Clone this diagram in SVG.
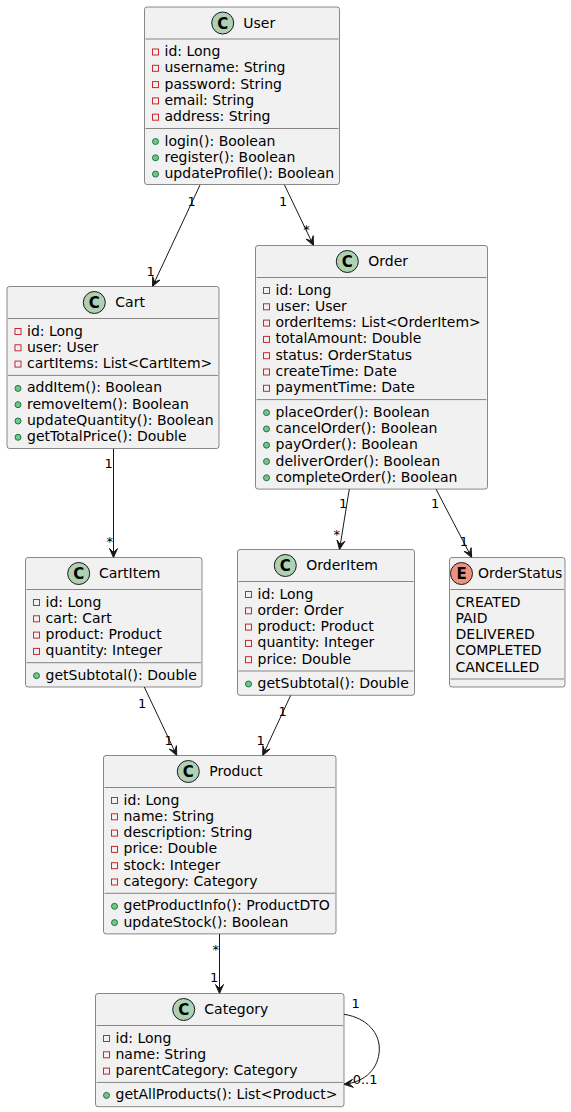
<svg xmlns="http://www.w3.org/2000/svg" width="571" height="1112" viewBox="0 0 571 1112">
<style>
.bg{fill:#FFFFFF}
.box{fill:#F1F1F1;stroke:#181818;stroke-width:0.5}
.sep{stroke:#181818;stroke-width:0.5}
text{font-family:"DejaVu Sans","Noto Sans",sans-serif;fill:#000000}
.t{font-size:14px}
.lbl{font-size:13px}
.ic{font-size:15px;font-weight:bold;text-anchor:middle}
.priv{fill:none;stroke:#C82930;stroke-width:1}
.pub{fill:#84BE84;stroke:#038048;stroke-width:1}
.cc{fill:#ADD1B2;stroke:#181818;stroke-width:1}
.ce{fill:#EB937F;stroke:#181818;stroke-width:1}
.edge{fill:none;stroke:#181818;stroke-width:1}
.head{fill:#181818;stroke:#181818;stroke-width:1}
</style>
<rect class="bg" x="0" y="0" width="571" height="1112"/>

<g id="connectors">
  <path class="edge" d="M200,185 L152.5,286.5"/>
  <polygon class="head" points="152.5,286.5 159.94,280.05 154.62,281.97 152.7,276.65"/>
  <text class="lbl" x="187.5" y="205.5">1</text>
  <text class="lbl" x="146.5" y="275.5">1</text>

  <path class="edge" d="M284.5,185 L313.5,245.5"/>
  <polygon class="head" points="313.5,245.5 313.22,235.65 311.34,240.99 306,239.11"/>
  <text class="lbl" x="279" y="205.5">1</text>
  <text class="lbl" x="303.3" y="233.7">*</text>

  <path class="edge" d="M113.5,448.6 L113.5,557.5"/>
  <polygon class="head" points="113.5,557.5 117.5,548.5 113.5,552.5 109.5,548.5"/>
  <text class="lbl" x="104.5" y="468.3">1</text>
  <text class="lbl" x="106.6" y="546">*</text>

  <path class="edge" d="M349.3,489.1 L339.5,549.5"/>
  <polygon class="head" points="339.5,549.5 344.89,541.26 340.3,544.57 336.99,539.98"/>
  <text class="lbl" x="339" y="508">1</text>
  <text class="lbl" x="333.6" y="538.7">*</text>

  <path class="edge" d="M436,489.1 L471.7,557.5"/>
  <polygon class="head" points="471.7,557.5 471.09,547.67 469.39,553.07 463.99,551.37"/>
  <text class="lbl" x="431" y="508">1</text>
  <text class="lbl" x="459.8" y="545.8">1</text>

  <path class="edge" d="M144.3,687 L176.7,755.5"/>
  <polygon class="head" points="176.7,755.5 176.47,745.65 174.56,750.98 169.23,749.07"/>
  <text class="lbl" x="138" y="707.5">1</text>
  <text class="lbl" x="164.5" y="745">1</text>

  <path class="edge" d="M290.7,695.3 L262.7,755.5"/>
  <polygon class="head" points="262.7,755.5 270.13,749.03 264.81,750.97 262.87,745.65"/>
  <text class="lbl" x="278.5" y="715.5">1</text>
  <text class="lbl" x="256.5" y="745">1</text>

  <path class="edge" d="M219.5,933.9 L219.5,993.5"/>
  <polygon class="head" points="219.5,993.5 223.5,984.5 219.5,988.5 215.5,984.5"/>
  <text class="lbl" x="212.6" y="953.7">*</text>
  <text class="lbl" x="210" y="982">1</text>

  <path class="edge" d="M344,1014.3 C368,1018 380,1034 379.3,1050 C378.6,1068 366,1082 344,1084.3"/>
  <polygon class="head" points="344,1084.3 353.39,1087.3 348.97,1083.76 352.51,1079.34"/>
  <text class="lbl" x="351.5" y="1008">1</text>
  <text class="lbl" x="352.7" y="1084">0..1</text>
</g>

<g id="User">
  <rect class="box" x="144.5" y="7" width="195" height="177.5" rx="2.5" ry="2.5"/>
  <circle class="cc" cx="222.7" cy="23" r="11"/>
  <text class="ic" x="222.7" y="28.5">C</text>
  <text class="t" x="243.3" y="27.8">User</text>
  <line class="sep" x1="145.5" y1="39" x2="338.5" y2="39"/>
  <rect class="priv" x="152.5" y="49" width="6" height="6"/><text class="t" x="164.5" y="56">id: Long</text>
  <rect class="priv" x="152.5" y="65.3" width="6" height="6"/><text class="t" x="164.5" y="72.3">username: String</text>
  <rect class="priv" x="152.5" y="81.6" width="6" height="6"/><text class="t" x="164.5" y="88.6">password: String</text>
  <rect class="priv" x="152.5" y="97.9" width="6" height="6"/><text class="t" x="164.5" y="104.9">email: String</text>
  <rect class="priv" x="152.5" y="114.2" width="6" height="6"/><text class="t" x="164.5" y="121.2">address: String</text>
  <line class="sep" x1="145.5" y1="128.5" x2="338.5" y2="128.5"/>
  <circle class="pub" cx="155.5" cy="141.5" r="3"/><text class="t" x="164.5" y="145.5">login(): Boolean</text>
  <circle class="pub" cx="155.5" cy="157.8" r="3"/><text class="t" x="164.5" y="161.8">register(): Boolean</text>
  <circle class="pub" cx="155.5" cy="174.1" r="3"/><text class="t" x="164.5" y="178.1">updateProfile(): Boolean</text>
</g>

<g id="Cart">
  <rect class="box" x="7" y="286.5" width="212" height="162" rx="2.5" ry="2.5"/>
  <circle class="cc" cx="94.3" cy="302.5" r="11"/>
  <text class="ic" x="94.3" y="308">C</text>
  <text class="t" x="115.3" y="307.3">Cart</text>
  <line class="sep" x1="8" y1="318.5" x2="218" y2="318.5"/>
  <rect class="priv" x="15" y="328.5" width="6" height="6"/><text class="t" x="27" y="335.5">id: Long</text>
  <rect class="priv" x="15" y="344.8" width="6" height="6"/><text class="t" x="27" y="351.8">user: User</text>
  <rect class="priv" x="15" y="361.1" width="6" height="6"/><text class="t" x="27" y="368.1">cartItems: List&lt;CartItem&gt;</text>
  <line class="sep" x1="8" y1="375.4" x2="218" y2="375.4"/>
  <circle class="pub" cx="18" cy="388.4" r="3"/><text class="t" x="27" y="392.4">addItem(): Boolean</text>
  <circle class="pub" cx="18" cy="404.7" r="3"/><text class="t" x="27" y="408.7">removeItem(): Boolean</text>
  <circle class="pub" cx="18" cy="421" r="3"/><text class="t" x="27" y="425">updateQuantity(): Boolean</text>
  <circle class="pub" cx="18" cy="437.3" r="3"/><text class="t" x="27" y="441.3">getTotalPrice(): Double</text>
</g>

<g id="Order">
  <rect class="box" x="255.5" y="245.5" width="232" height="243.6" rx="2.5" ry="2.5"/>
  <circle class="cc" cx="347.3" cy="261.5" r="11"/>
  <text class="ic" x="347.3" y="267">C</text>
  <text class="t" x="368.3" y="266.3">Order</text>
  <line class="sep" x1="256.5" y1="277.5" x2="486.5" y2="277.5"/>
  <rect class="priv" x="263.5" y="287.5" width="6" height="6"/><text class="t" x="275.5" y="294.5">id: Long</text>
  <rect class="priv" x="263.5" y="303.8" width="6" height="6"/><text class="t" x="275.5" y="310.8">user: User</text>
  <rect class="priv" x="263.5" y="320.1" width="6" height="6"/><text class="t" x="275.5" y="327.1">orderItems: List&lt;OrderItem&gt;</text>
  <rect class="priv" x="263.5" y="336.4" width="6" height="6"/><text class="t" x="275.5" y="343.4">totalAmount: Double</text>
  <rect class="priv" x="263.5" y="352.7" width="6" height="6"/><text class="t" x="275.5" y="359.7">status: OrderStatus</text>
  <rect class="priv" x="263.5" y="369" width="6" height="6"/><text class="t" x="275.5" y="376">createTime: Date</text>
  <rect class="priv" x="263.5" y="385.3" width="6" height="6"/><text class="t" x="275.5" y="392.3">paymentTime: Date</text>
  <line class="sep" x1="256.5" y1="399.6" x2="486.5" y2="399.6"/>
  <circle class="pub" cx="266.5" cy="412.6" r="3"/><text class="t" x="275.5" y="416.6">placeOrder(): Boolean</text>
  <circle class="pub" cx="266.5" cy="428.9" r="3"/><text class="t" x="275.5" y="432.9">cancelOrder(): Boolean</text>
  <circle class="pub" cx="266.5" cy="445.2" r="3"/><text class="t" x="275.5" y="449.2">payOrder(): Boolean</text>
  <circle class="pub" cx="266.5" cy="461.5" r="3"/><text class="t" x="275.5" y="465.5">deliverOrder(): Boolean</text>
  <circle class="pub" cx="266.5" cy="477.8" r="3"/><text class="t" x="275.5" y="481.8">completeOrder(): Boolean</text>
</g>

<g id="CartItem">
  <rect class="box" x="25.5" y="557.5" width="176.5" height="129.5" rx="2.5" ry="2.5"/>
  <circle class="cc" cx="78.7" cy="573.5" r="11"/>
  <text class="ic" x="78.7" y="579">C</text>
  <text class="t" x="99" y="578.3">CartItem</text>
  <line class="sep" x1="26.5" y1="589.5" x2="201" y2="589.5"/>
  <rect class="priv" x="33.5" y="599.5" width="6" height="6"/><text class="t" x="45.5" y="606.5">id: Long</text>
  <rect class="priv" x="33.5" y="615.8" width="6" height="6"/><text class="t" x="45.5" y="622.8">cart: Cart</text>
  <rect class="priv" x="33.5" y="632.1" width="6" height="6"/><text class="t" x="45.5" y="639.1">product: Product</text>
  <rect class="priv" x="33.5" y="648.4" width="6" height="6"/><text class="t" x="45.5" y="655.4">quantity: Integer</text>
  <line class="sep" x1="26.5" y1="662.7" x2="201" y2="662.7"/>
  <circle class="pub" cx="36.5" cy="675.7" r="3"/><text class="t" x="45.5" y="679.7">getSubtotal(): Double</text>
</g>

<g id="OrderItem">
  <rect class="box" x="237.5" y="549.5" width="177" height="145.8" rx="2.5" ry="2.5"/>
  <circle class="cc" cx="285.3" cy="565.5" r="11"/>
  <text class="ic" x="285.3" y="571">C</text>
  <text class="t" x="306.3" y="570.3">OrderItem</text>
  <line class="sep" x1="238.5" y1="581.5" x2="413.5" y2="581.5"/>
  <rect class="priv" x="245.5" y="591.5" width="6" height="6"/><text class="t" x="257.5" y="598.5">id: Long</text>
  <rect class="priv" x="245.5" y="607.8" width="6" height="6"/><text class="t" x="257.5" y="614.8">order: Order</text>
  <rect class="priv" x="245.5" y="624.1" width="6" height="6"/><text class="t" x="257.5" y="631.1">product: Product</text>
  <rect class="priv" x="245.5" y="640.4" width="6" height="6"/><text class="t" x="257.5" y="647.4">quantity: Integer</text>
  <rect class="priv" x="245.5" y="656.7" width="6" height="6"/><text class="t" x="257.5" y="663.7">price: Double</text>
  <line class="sep" x1="238.5" y1="671" x2="413.5" y2="671"/>
  <circle class="pub" cx="248.5" cy="684" r="3"/><text class="t" x="257.5" y="688">getSubtotal(): Double</text>
</g>

<g id="OrderStatus">
  <rect class="box" x="449.5" y="557.5" width="115.5" height="129.5" rx="2.5" ry="2.5"/>
  <circle class="ce" cx="461.5" cy="573.5" r="11"/>
  <text class="ic" x="461.5" y="579">E</text>
  <text class="t" x="478" y="578.3">OrderStatus</text>
  <line class="sep" x1="450.5" y1="589.5" x2="564" y2="589.5"/>
  <text class="t" x="455.5" y="606.5">CREATED</text>
  <text class="t" x="455.5" y="622.8">PAID</text>
  <text class="t" x="455.5" y="639.1">DELIVERED</text>
  <text class="t" x="455.5" y="655.4">COMPLETED</text>
  <text class="t" x="455.5" y="671.7">CANCELLED</text>
  <line class="sep" x1="450.5" y1="679" x2="564" y2="679"/>
</g>

<g id="Product">
  <rect class="box" x="103.5" y="755.5" width="232.5" height="178.4" rx="2.5" ry="2.5"/>
  <circle class="cc" cx="188.3" cy="771.5" r="11"/>
  <text class="ic" x="188.3" y="777">C</text>
  <text class="t" x="209.3" y="776.3">Product</text>
  <line class="sep" x1="104.5" y1="787.5" x2="335" y2="787.5"/>
  <rect class="priv" x="111.5" y="797.5" width="6" height="6"/><text class="t" x="123.5" y="804.5">id: Long</text>
  <rect class="priv" x="111.5" y="813.8" width="6" height="6"/><text class="t" x="123.5" y="820.8">name: String</text>
  <rect class="priv" x="111.5" y="830.1" width="6" height="6"/><text class="t" x="123.5" y="837.1">description: String</text>
  <rect class="priv" x="111.5" y="846.4" width="6" height="6"/><text class="t" x="123.5" y="853.4">price: Double</text>
  <rect class="priv" x="111.5" y="862.7" width="6" height="6"/><text class="t" x="123.5" y="869.7">stock: Integer</text>
  <rect class="priv" x="111.5" y="879" width="6" height="6"/><text class="t" x="123.5" y="886">category: Category</text>
  <line class="sep" x1="104.5" y1="893.3" x2="335" y2="893.3"/>
  <circle class="pub" cx="114.5" cy="906.3" r="3"/><text class="t" x="123.5" y="910.3">getProductInfo(): ProductDTO</text>
  <circle class="pub" cx="114.5" cy="922.6" r="3"/><text class="t" x="123.5" y="926.6">updateStock(): Boolean</text>
</g>

<g id="Category">
  <rect class="box" x="95.5" y="993.5" width="248.5" height="113.2" rx="2.5" ry="2.5"/>
  <circle class="cc" cx="183.7" cy="1009.5" r="11"/>
  <text class="ic" x="183.7" y="1015">C</text>
  <text class="t" x="204.3" y="1014.3">Category</text>
  <line class="sep" x1="96.5" y1="1025.5" x2="343" y2="1025.5"/>
  <rect class="priv" x="103.5" y="1035.5" width="6" height="6"/><text class="t" x="115.5" y="1042.5">id: Long</text>
  <rect class="priv" x="103.5" y="1051.8" width="6" height="6"/><text class="t" x="115.5" y="1058.8">name: String</text>
  <rect class="priv" x="103.5" y="1068.1" width="6" height="6"/><text class="t" x="115.5" y="1075.1">parentCategory: Category</text>
  <line class="sep" x1="96.5" y1="1082.4" x2="343" y2="1082.4"/>
  <circle class="pub" cx="106.5" cy="1095.4" r="3"/><text class="t" x="115.5" y="1099.4">getAllProducts(): List&lt;Product&gt;</text>
</g>
</svg>
